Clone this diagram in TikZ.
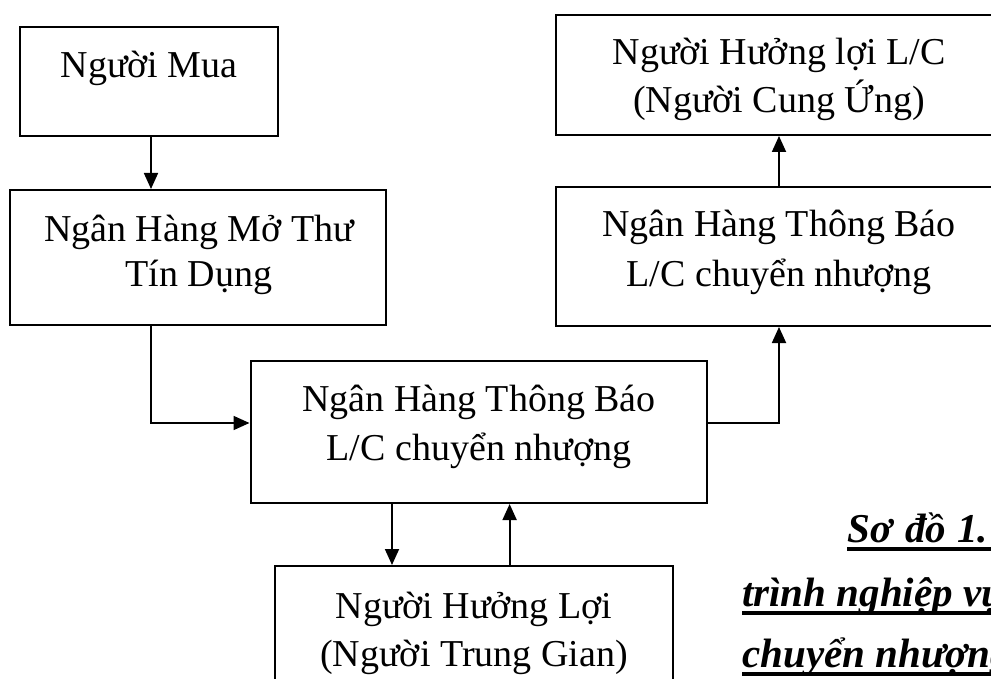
\documentclass[tikz,border=0pt]{standalone}
\usepackage{fontspec}
\setmainfont{Liberation Serif}
\usetikzlibrary{arrows.meta,calc}
\tikzset{
  box/.style={draw, rectangle, line width=2pt, inner sep=0pt},
  txt/.style={anchor=base, inner sep=0pt, font=\fontsize{38}{46}\selectfont},
  captxt/.style={anchor=base west, inner sep=0pt, font=\fontsize{41}{49}\selectfont\bfseries\itshape},
  conn/.style={line width=1.8pt, -{Triangle[length=16pt,width=14pt]}},
  uline/.style={line width=3.5pt}
}
\begin{document}
\begin{tikzpicture}[x=1pt,y=-1pt]
\useasboundingbox (0,0) rectangle (991,679);
\clip (0,0) rectangle (991,679);
% boxes
\node[box, minimum width=258pt, minimum height=109pt] (A) at (149,81.5) {};
\node[box, minimum width=376pt, minimum height=135pt] (B) at (198,257.5) {};
\node[box, minimum width=456.5pt, minimum height=142pt] (C) at (478.75,432) {};
\node[box, minimum width=446pt, minimum height=139pt] (D) at (779,256.5) {};
\node[box, minimum width=446pt, minimum height=120pt] (E) at (779,75) {};
\node[box, minimum width=398.7pt, minimum height=130pt] (F) at (474,631) {};
% texts
\node[txt] (tA) at (149,78) {Người Mua};
\node[txt] (tB1) at (199,242) {Ngân Hàng Mở Thư};
\node[txt] (tB2) at (199,287) {Tín Dụng};
\node[txt] (tE1) at (779,65) {Người Hưởng lợi L/C};
\node[txt] (tE2) at (779,113) {(Người Cung Ứng)};
\node[txt] (tD1) at (779,237) {Ngân Hàng Thông Báo};
\node[txt] (tD2) at (779,287) {L/C chuyển nhượng};
\node[txt] (tC1) at (479,411) {Ngân Hàng Thông Báo};
\node[txt] (tC2) at (479,460) {L/C chuyển nhượng};
\node[txt] (tF1) at (474,618) {Người Hưởng Lợi};
\node[txt] (tF2) at (474,666) {(Người Trung Gian)};
% caption
\node[captxt] (c1) at (847,542) {Sơ\hspace{13pt}đồ\hspace{11pt}1.};
\node[captxt] (c2) at (742,606) {trình nghiệp vụ};
\node[captxt] (c3) at (742,667) {chuyển nhượng};
\coordinate (rend) at (1000,0);
\draw[uline] ($(c1.base west)+(0,7)$) -- ($(c1.base west -| rend)+(0,7)$);
\draw[uline] ($(c2.base west)+(0,7)$) -- ($(c2.base west -| rend)+(0,7)$);
\draw[uline] ($(c3.base west)+(0,7)$) -- ($(c3.base west -| rend)+(0,7)$);
% connector columns
\coordinate (xab) at (151,0);
\coordinate (xbc) at (151,0);
\coordinate (ycd) at (0,423);
\coordinate (xcf) at (392,0);
\coordinate (xfc) at (509.6,0);
% connectors
\draw[conn] (A.south -| xab) -- (B.north -| xab);
\draw[conn] (B.south -| xbc) |- (C.west |- ycd);
\draw[conn] (C.east |- ycd) -| (D.south);
\draw[conn] (D.north) -- (E.south);
\draw[conn] (C.south -| xcf) -- (F.north -| xcf);
\draw[conn] (F.north -| xfc) -- (C.south -| xfc);
\end{tikzpicture}
\end{document}
